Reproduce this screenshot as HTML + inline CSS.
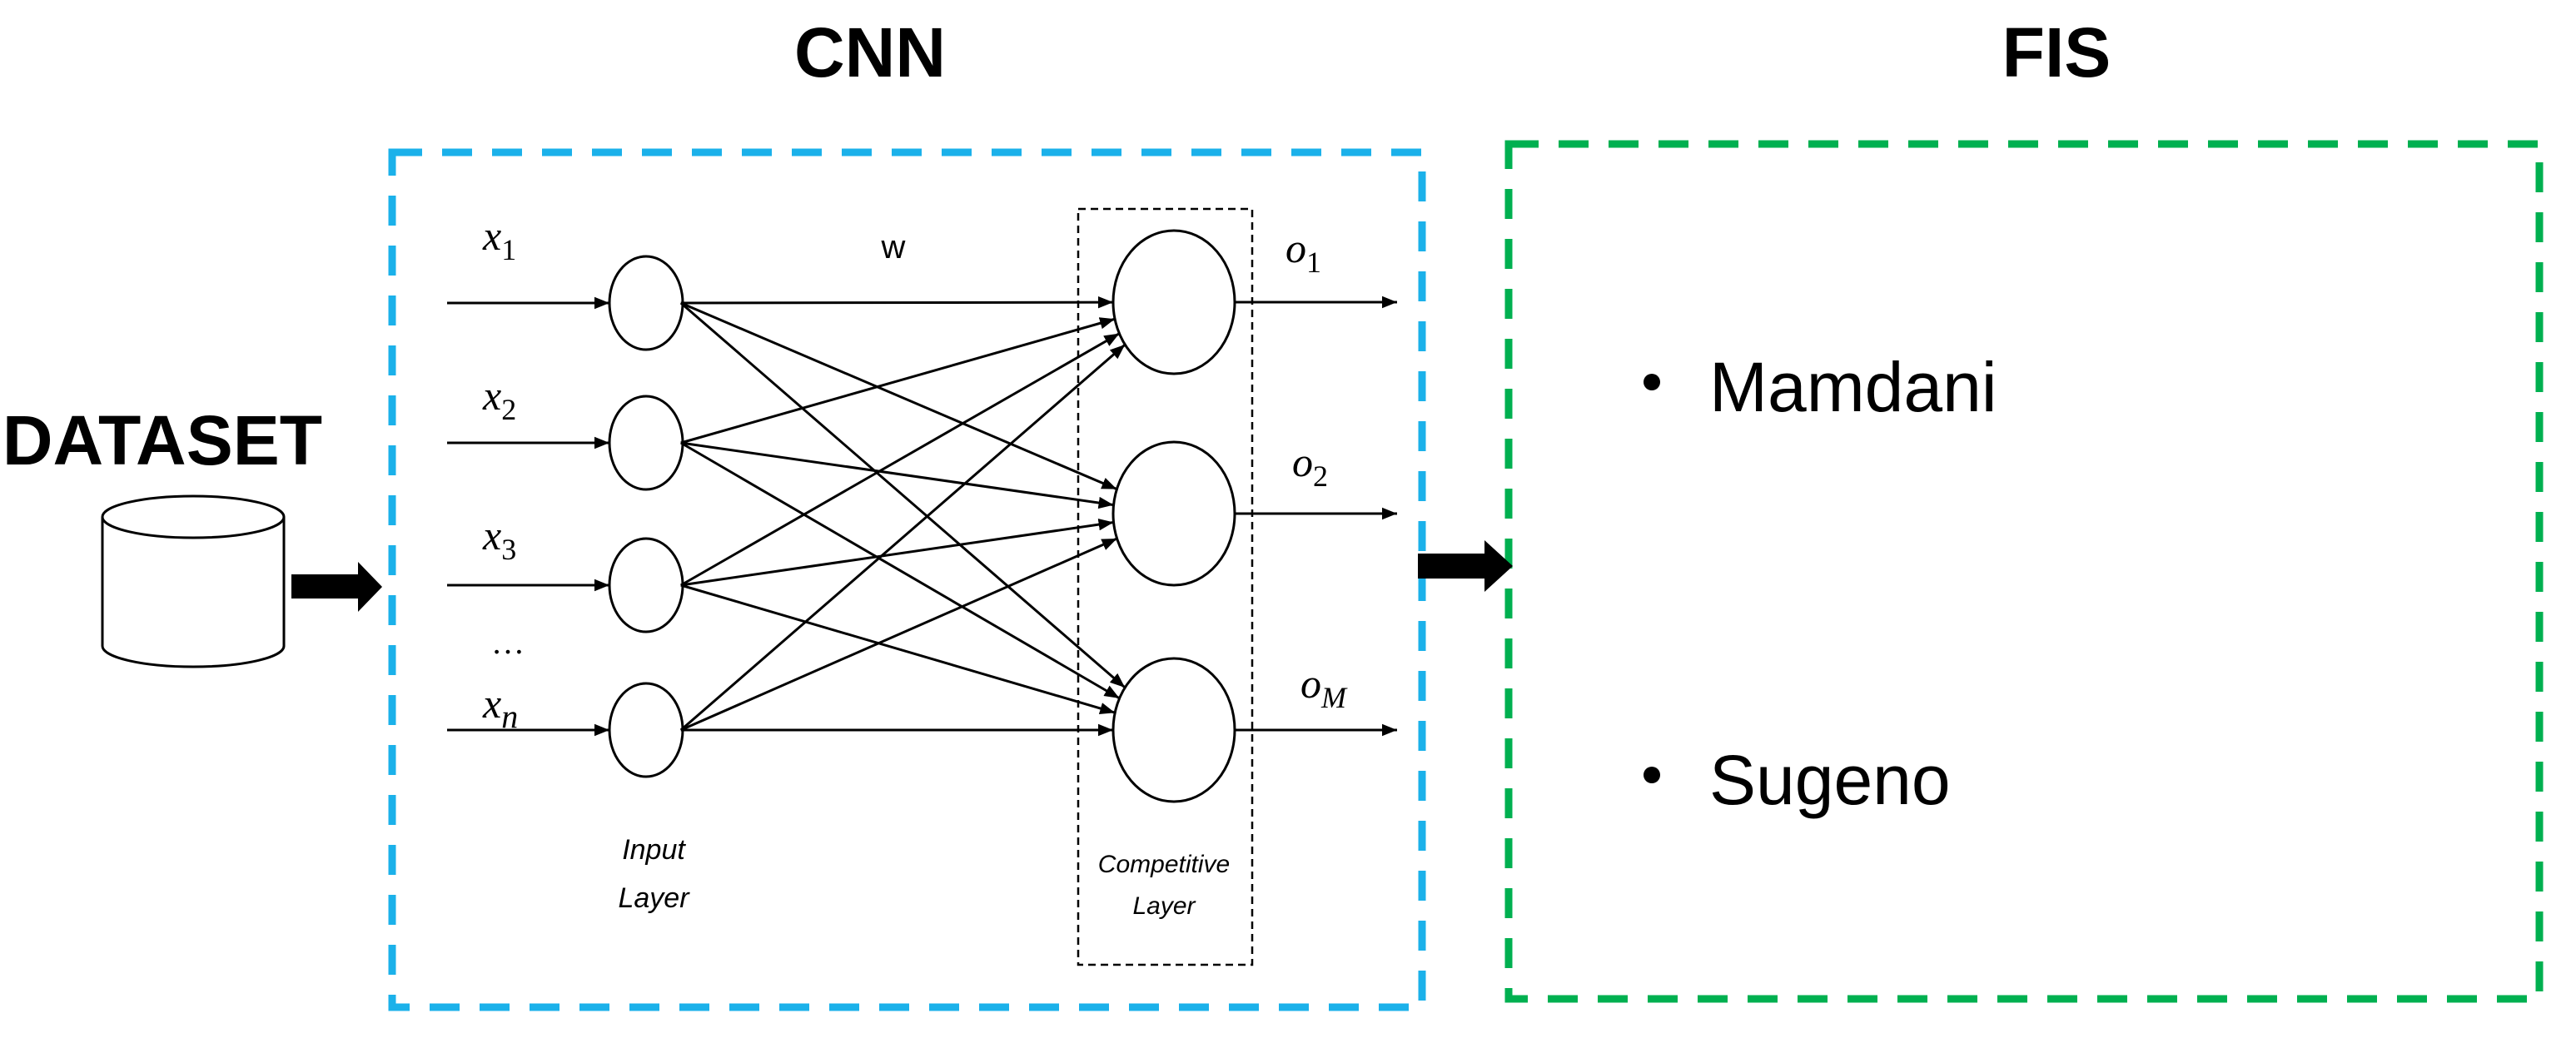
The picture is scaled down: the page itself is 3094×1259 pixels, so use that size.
<!DOCTYPE html>
<html><head><meta charset="utf-8"><style>
html,body{margin:0;padding:0;background:#fff}
svg{display:block}
</style></head><body>
<svg id="s" width="3094" height="1259" viewBox="0 0 3094 1259" xmlns="http://www.w3.org/2000/svg">
<defs>
<marker id="a" viewBox="0 0 10 10" refX="10" refY="5" markerWidth="6" markerHeight="6" orient="auto" markerUnits="strokeWidth"><path d="M0,1 L10,5 L0,9 z" fill="#000"/></marker>
</defs>
<g font-family="Liberation Sans, sans-serif">
<text x="1045" y="92" font-size="84" font-weight="bold" text-anchor="middle">CNN</text>
<text x="2470" y="92" font-size="84" font-weight="bold" text-anchor="middle">FIS</text>
<text x="195" y="558" font-size="84" font-weight="bold" text-anchor="middle">DATASET</text>
</g>
<rect x="471" y="183" width="1237" height="1027" fill="none" stroke="#1BB1EA" stroke-width="9" stroke-dasharray="36,24"/>
<rect x="1812" y="173" width="1238" height="1027" fill="none" stroke="#00B050" stroke-width="9" stroke-dasharray="36,24"/>
<rect x="1295" y="251" width="209" height="908" fill="none" stroke="#000" stroke-width="2.5" stroke-dasharray="9,6"/>
<!-- cylinder -->
<path d="M123,621 L123,776 A109,25 0 0 0 341,776 L341,621" fill="#fff" stroke="#000" stroke-width="3"/>
<ellipse cx="232" cy="621" rx="109" ry="25" fill="#fff" stroke="#000" stroke-width="3"/>
<!-- block arrows -->
<path d="M350,690 L430,690 L430,675 L459,705 L430,735 L430,719 L350,719 z" fill="#000"/>
<path d="M1703,665 L1783,665 L1783,649 L1817,680 L1783,711 L1783,695 L1703,695 z" fill="#000"/>
<g id="net" stroke="#000" stroke-width="3" fill="none"></g>
<g font-family="Liberation Serif, serif" font-style="italic" font-size="50">
<text x="580" y="300">x<tspan font-size="36" dy="12" font-style="normal">1</tspan></text>
<text x="580" y="492">x<tspan font-size="36" dy="12" font-style="normal">2</tspan></text>
<text x="580" y="660">x<tspan font-size="36" dy="12" font-style="normal">3</tspan></text>
<text x="590" y="785" font-style="normal" font-size="40">…</text>
<text x="580" y="862">x<tspan font-size="40" dy="12">n</tspan></text>
<text x="1544" y="315">o<tspan font-size="36" dy="12" font-style="normal">1</tspan></text>
<text x="1552" y="572">o<tspan font-size="36" dy="12" font-style="normal">2</tspan></text>
<text x="1562" y="838">o<tspan font-size="36" dy="12">M</tspan></text>
</g>
<g font-family="Liberation Sans, sans-serif">
<text x="1073" y="310" font-size="40" text-anchor="middle">w</text>
<text x="785" y="1032" font-size="34" font-style="italic" text-anchor="middle">Input</text>
<text x="785" y="1090" font-size="34" font-style="italic" text-anchor="middle">Layer</text>
<text x="1398" y="1048" font-size="30" font-style="italic" text-anchor="middle">Competitive</text>
<text x="1398" y="1098" font-size="30" font-style="italic" text-anchor="middle">Layer</text>
<circle cx="1984" cy="459" r="10" fill="#000"/>
<text x="2053" y="494" font-size="84">Mamdani</text>
<circle cx="1984" cy="931" r="10" fill="#000"/>
<text x="2053" y="966" font-size="84">Sugeno</text>
</g>
</svg>
<script>
var g=document.getElementById('net'),NS='http://www.w3.org/2000/svg';
function el(t,a){var e=document.createElementNS(NS,t);for(var k in a)e.setAttribute(k,a[k]);g.appendChild(e);return e;}
var iy=[364,532,703,877],oy=[363,617,877],ix=776,irx=44,iry=56,ox=1410,orx=73,ory=86;
iy.forEach(function(y){el('line',{x1:537,y1:y,x2:ix-irx,y2:y,'marker-end':'url(#a)'});el('ellipse',{cx:ix,cy:y,rx:irx,ry:iry,fill:'#fff'});});
iy.forEach(function(y,i){oy.forEach(function(yo){
 var sx=ix+irx*0.95,sy=y;var dx=ox-sx,dy=yo-sy;
 // intersect with output ellipse
 var lo=0,hi=1;for(var k=0;k<40;k++){var m=(lo+hi)/2;var px=sx+dx*m,py=sy+dy*m;var v=Math.pow((px-ox)/orx,2)+Math.pow((py-yo)/ory,2);if(v>1)lo=m;else hi=m;}
 el('line',{x1:sx,y1:sy,x2:sx+dx*lo,y2:sy+dy*lo,'marker-end':'url(#a)'});
});});
oy.forEach(function(y){el('ellipse',{cx:ox,cy:y,rx:orx,ry:ory,fill:'#fff'});el('line',{x1:ox+orx,y1:y,x2:1678,y2:y,'marker-end':'url(#a)'});});
</script>
</body></html>
